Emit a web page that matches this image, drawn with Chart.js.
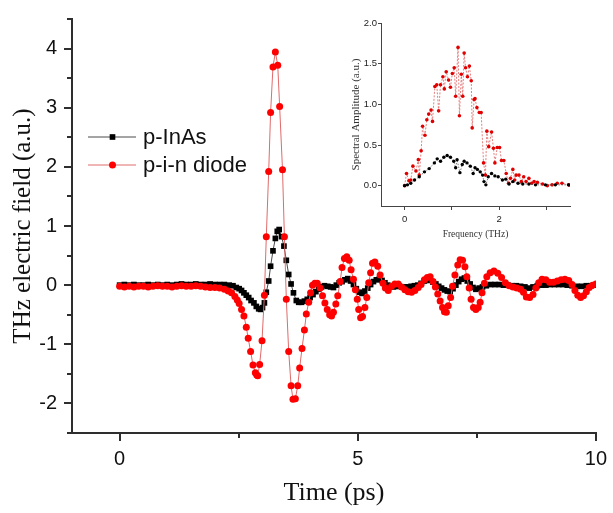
<!DOCTYPE html>
<html>
<head>
<meta charset="utf-8">
<script src="https://cdn.jsdelivr.net/npm/chart.js@4.4.1/dist/chart.umd.min.js"></script>
<style>
html, body { margin: 0; padding: 0; background: #fff; }
#wrap { position: relative; width: 613px; height: 513px; }
#mainChart { position: absolute; left: 0; top: 0; }
#insetChart { position: absolute; left: 340px; top: 0; }
</style>
</head>
<body>
<div id="wrap">
  <canvas id="mainChart" width="613" height="513"></canvas>
  <canvas id="insetChart" width="240" height="245"></canvas>
</div>
<script>
// series names
var seriesNames = ['p-InAs', 'p-i-n diode'];

// tick values
var timeTicks = [0, 5, 10];
var fieldTicks = [-2, -1, 0, 1, 2, 3, 4];
var freqTicks = [0, 1, 2, 3];
var ampTicks = [0, 0.5, 1.0, 1.5, 2.0];

// main panel: THz field vs time (ps), p-InAs
var inasTime = [
  0.0,0.1,0.2,0.3,0.4,0.5,0.6,0.7,0.8,0.9,
  1.0,1.1,1.2,1.3,1.4,1.5,1.6,1.7,1.8,1.9,
  2.0,2.1,2.2,2.3,2.38,2.45,2.51,2.56,2.61,2.66,
  2.71,2.76,2.82,2.87,2.92,2.96,3.00,3.04,3.08,3.13,
  3.17,3.22,3.27,3.31,3.35,3.40,3.45,3.50,3.55,3.60,
  3.65,3.71,3.76,3.82,3.88,3.94,4.00,4.06,4.12,4.18,
  4.24,4.30,4.37,4.43,4.49,4.55,4.61,4.67,4.73,4.79,
  4.85,4.91,4.97,5.03,5.09,5.15,5.21,5.27,5.33,5.39,
  5.45,5.51,5.57,5.63,5.69,5.75,5.81,5.87,5.93,5.99,
  6.05,6.12,6.19,6.26,6.33,6.40,6.46,6.52,6.58,6.64,
  6.70,6.76,6.82,6.88,6.94,7.00,7.06,7.12,7.18,7.24,
  7.30,7.36,7.42,7.48,7.55,7.62,7.70,7.79,7.88,7.97,
  8.06,8.15,8.24,8.33,8.42,8.51,8.60,8.68,8.77,8.86,
  8.95,9.04,9.13,9.22,9.31,9.40,9.50,9.60,9.70,9.80,
  9.90,10.0
];
var inasField = [
  0.00,0.01,0.00,0.01,0.00,0.00,0.01,0.00,0.01,0.00,
  0.01,0.00,0.01,0.02,0.01,0.01,0.02,0.01,0.01,0.02,
  0.01,0.01,0.01,0.00,-0.01,-0.04,-0.06,-0.09,-0.13,-0.17,
  -0.21,-0.26,-0.30,-0.36,-0.40,-0.41,-0.38,-0.30,-0.12,0.07,
  0.32,0.58,0.79,0.91,0.94,0.82,0.66,0.42,0.18,0.02,
  -0.13,-0.26,-0.29,-0.29,-0.27,-0.24,-0.21,-0.16,-0.11,-0.07,
  -0.03,-0.01,-0.02,-0.03,-0.04,0.00,0.04,0.06,0.09,0.11,
  0.07,0.01,-0.06,-0.12,-0.14,-0.10,-0.05,0.01,0.06,0.09,
  0.10,0.08,0.04,0.00,-0.02,-0.03,-0.02,-0.02,-0.03,-0.03,
  -0.03,-0.02,-0.01,0.00,0.03,0.07,0.09,0.08,0.05,0.02,
  -0.02,-0.05,-0.08,-0.10,-0.11,-0.06,0.00,0.06,0.10,0.12,
  0.07,0.02,-0.04,-0.07,-0.05,-0.03,-0.01,0.01,0.01,0.01,
  0.00,0.00,-0.01,-0.01,-0.02,-0.03,-0.05,-0.03,-0.01,0.00,
  0.00,0.01,0.01,0.01,0.01,0.00,-0.01,-0.02,-0.02,-0.01,
  -0.01,0.00
];

// main panel: p-i-n diode
var pinTime = [
  0.0,0.1,0.2,0.3,0.4,0.5,0.6,0.7,0.8,0.9,
  1.0,1.1,1.2,1.3,1.4,1.5,1.6,1.7,1.8,1.9,
  2.0,2.1,2.2,2.28,2.35,2.42,2.47,2.51,2.56,2.61,
  2.66,2.70,2.75,2.80,2.85,2.88,2.90,2.94,2.99,3.04,
  3.08,3.13,3.17,3.22,3.27,3.32,3.36,3.42,3.46,3.50,
  3.55,3.60,3.64,3.69,3.74,3.78,3.83,3.88,3.92,3.97,
  4.01,4.05,4.10,4.15,4.21,4.26,4.31,4.36,4.41,4.45,
  4.49,4.54,4.58,4.63,4.67,4.72,4.77,4.82,4.86,4.91,
  4.95,4.99,5.02,5.06,5.10,5.15,5.19,5.23,5.27,5.31,
  5.36,5.42,5.47,5.53,5.58,5.64,5.71,5.78,5.85,5.92,
  5.99,6.06,6.13,6.20,6.27,6.33,6.40,6.46,6.52,6.58,
  6.63,6.68,6.73,6.78,6.82,6.86,6.90,6.95,6.99,7.04,
  7.10,7.15,7.20,7.25,7.29,7.34,7.38,7.43,7.48,7.53,
  7.57,7.61,7.66,7.71,7.78,7.86,7.94,8.02,8.10,8.18,
  8.26,8.34,8.42,8.48,8.54,8.61,8.68,8.74,8.80,8.87,
  8.95,9.03,9.11,9.19,9.27,9.35,9.43,9.50,9.56,9.62,
  9.68,9.74,9.80,9.86,9.93,10.0
];
var pinField = [
  -0.02,-0.03,-0.02,-0.03,-0.02,-0.02,-0.03,-0.02,-0.01,-0.02,
  -0.02,-0.03,-0.02,-0.01,-0.02,-0.02,-0.01,-0.02,-0.03,-0.04,
  -0.04,-0.05,-0.07,-0.10,-0.13,-0.19,-0.25,-0.31,-0.41,-0.52,
  -0.71,-0.90,-1.12,-1.35,-1.48,-1.52,-1.53,-1.34,-0.94,-0.17,
  0.82,1.92,2.92,3.69,3.94,3.72,3.02,1.95,0.82,-0.24,
  -1.12,-1.70,-1.93,-1.92,-1.70,-1.40,-1.07,-0.76,-0.49,-0.29,
  -0.13,0.00,0.03,0.03,-0.05,-0.18,-0.30,-0.41,-0.50,-0.52,
  -0.46,-0.32,-0.18,0.06,0.30,0.45,0.48,0.42,0.26,0.10,
  -0.08,-0.24,-0.41,-0.55,-0.53,-0.38,-0.21,0.04,0.21,0.37,
  0.39,0.32,0.17,0.03,-0.05,-0.09,-0.02,0.02,0.02,-0.03,
  -0.08,-0.11,-0.12,-0.09,-0.04,0.01,0.09,0.13,0.14,0.06,
  -0.03,-0.15,-0.27,-0.38,-0.45,-0.46,-0.35,-0.21,-0.02,0.17,
  0.34,0.43,0.42,0.31,0.14,-0.05,-0.24,-0.38,-0.41,-0.38,
  -0.29,-0.13,0.03,0.14,0.21,0.24,0.20,0.13,0.04,-0.01,
  -0.03,-0.05,-0.07,-0.12,-0.20,-0.21,-0.16,-0.05,0.04,0.10,
  0.09,0.05,0.05,0.07,0.09,0.10,0.08,0.01,-0.09,-0.17,
  -0.21,-0.18,-0.11,-0.04,0.00,0.02
];

// inset: spectral amplitude vs frequency (THz)
var inasFreq = [
  0.00,0.06,0.13,0.21,0.31,0.42,0.52,0.63,0.69,0.76,
  0.83,0.90,0.97,1.04,1.08,1.11,1.17,1.22,1.26,1.32,
  1.39,1.45,1.49,1.54,1.60,1.65,1.68,1.72,1.77,1.84,
  1.91,1.98,2.07,2.14,2.21,2.29,2.40,2.50,2.63,2.77,
  2.98,3.19,3.47
];
var inasAmp = [
  0.00,0.01,0.03,0.07,0.11,0.17,0.21,0.28,0.33,0.30,
  0.35,0.37,0.35,0.30,0.22,0.32,0.16,0.26,0.30,0.28,
  0.24,0.15,0.22,0.20,0.17,0.13,0.05,0.01,0.11,0.15,
  0.12,0.11,0.07,0.08,0.02,0.05,0.03,0.02,0.02,0.01,
  0.01,0.01,0.01
];
var pinFreq = [
  0.00,0.04,0.09,0.13,0.175,0.24,0.29,0.31,0.35,0.38,
  0.43,0.47,0.51,0.56,0.59,0.64,0.68,0.72,0.76,0.81,
  0.84,0.88,0.93,0.97,1.01,1.05,1.08,1.13,1.16,1.20,
  1.23,1.26,1.29,1.33,1.37,1.41,1.43,1.47,1.49,1.53,
  1.58,1.62,1.67,1.71,1.74,1.78,1.84,1.88,1.91,1.96,
  2.01,2.05,2.10,2.15,2.20,2.24,2.29,2.33,2.36,2.42,
  2.47,2.52,2.57,2.63,2.69,2.74,2.81,2.92,3.02,3.12,
  3.23,3.33,3.47
];
var pinAmp = [
  0.00,0.15,0.06,0.07,0.24,0.18,0.32,0.13,0.43,0.73,
  0.62,0.81,0.88,0.93,0.79,1.22,1.24,0.92,1.24,1.34,
  1.19,1.40,1.30,1.21,1.38,1.45,1.10,1.70,0.86,1.37,
  1.10,1.63,1.45,1.34,1.47,1.29,0.71,1.06,1.07,0.96,
  0.90,0.90,0.28,0.13,0.67,0.48,0.66,0.46,0.28,0.47,
  0.47,0.31,0.31,0.15,0.03,0.09,0.20,0.07,0.13,0.13,
  0.05,0.11,0.05,0.09,0.03,0.05,0.04,0.02,0.00,0.01,
  0.03,0.03,0.01
];

function toPoints(xs, ys) {
  return xs.map(function (x, i) { return { x: x, y: ys[i] }; });
}
function fixedTicks(values) {
  return function (s) { s.ticks = values.map(function (v) { return { value: v }; }); };
}

var AXIS = '#2e2e2e';
var SANS = '"Liberation Sans", Arial, sans-serif';
var SERIF = '"Liberation Serif", "Times New Roman", serif';

// shorter ticks halfway between the labelled ones
var minorTicks = {
  id: 'minorTicks',
  afterDraw: function (chart) {
    var ctx = chart.ctx;
    ctx.save();
    ctx.strokeStyle = AXIS;
    ctx.lineWidth = 2;
    ['x', 'y'].forEach(function (id) {
      var s = chart.scales[id];
      var vals = s.ticks.map(function (t) { return t.value; });
      var step = vals[1] - vals[0];
      for (var v = vals[0] - step / 2; v <= s.max + 1e-9; v += step) {
        if (v < s.min - 1e-9) continue;
        var p = Math.round(s.getPixelForValue(v));
        ctx.beginPath();
        if (id === 'x') { ctx.moveTo(p, s.top); ctx.lineTo(p, s.top + 5); }
        else { ctx.moveTo(s.right, p); ctx.lineTo(s.right - 5, p); }
        ctx.stroke();
      }
    });
    ctx.restore();
  }
};

// legend drawn inside the plot, left of the pulse
var insideLegend = {
  id: 'insideLegend',
  afterDraw: function (chart) {
    var ctx = chart.ctx;
    ctx.save();
    chart.data.datasets.forEach(function (ds, i) {
      var y = 137 + i * 28;
      ctx.strokeStyle = ds.borderColor;
      ctx.lineWidth = 1;
      ctx.beginPath();
      ctx.moveTo(88, y);
      ctx.lineTo(136, y);
      ctx.stroke();
      ctx.fillStyle = ds.pointBackgroundColor;
      Chart.helpers.drawPoint(ctx, { pointStyle: ds.pointStyle, radius: ds.pointRadius, borderWidth: 0, rotation: 0 }, 112.5, y);
      ctx.fillStyle = '#111';
      ctx.font = '22px ' + SANS;
      ctx.textBaseline = 'middle';
      ctx.fillText(ds.label, 143, y + 1);
    });
    ctx.restore();
  }
};

new Chart(document.getElementById('mainChart').getContext('2d'), {
  type: 'scatter',
  data: {
    datasets: [
      {
        label: seriesNames[0],
        data: toPoints(inasTime, inasField),
        showLine: true,
        borderColor: '#4a4a4a',
        borderWidth: 1,
        pointStyle: 'rect',
        pointRadius: 4,
        pointBackgroundColor: '#000',
        pointBorderWidth: 0,
        order: 1
      },
      {
        label: seriesNames[1],
        data: toPoints(pinTime, pinField),
        showLine: true,
        borderColor: '#e06a6a',
        borderWidth: 1,
        pointStyle: 'circle',
        pointRadius: 3.5,
        pointBackgroundColor: '#ff0000',
        pointBorderWidth: 0,
        order: 0
      }
    ]
  },
  options: {
    responsive: false,
    animation: false,
    layout: { padding: { top: 10, right: 14, left: 0, bottom: 0 } },
    plugins: {
      legend: { display: false },
      tooltip: { enabled: false }
    },
    scales: {
      x: {
        type: 'linear',
        min: -1,
        max: 10,
        afterBuildTicks: fixedTicks(timeTicks),
        afterFit: function (s) { s.height = 80; },
        ticks: { color: '#111', padding: 6, font: { family: SANS, size: 20 } },
        grid: { drawOnChartArea: false, tickLength: 8, color: AXIS, lineWidth: 2 },
        border: { color: AXIS, width: 2 },
        title: { display: true, text: 'Time (ps)', color: '#111', padding: { top: 0, bottom: 4 }, font: { family: SERIF, size: 26 } }
      },
      y: {
        min: -2.5,
        max: 4.5,
        afterBuildTicks: fixedTicks(fieldTicks),
        afterFit: function (s) { s.width = 72; },
        ticks: { color: '#111', padding: 7, font: { family: SANS, size: 20 } },
        grid: { drawOnChartArea: false, tickLength: 8, color: AXIS, lineWidth: 2 },
        border: { color: AXIS, width: 2 },
        title: { display: true, text: 'THz electric field (a.u.)', color: '#111', padding: { top: 8, bottom: 0 }, font: { family: SERIF, size: 25 } }
      }
    }
  },
  plugins: [minorTicks, insideLegend]
});

new Chart(document.getElementById('insetChart').getContext('2d'), {
  type: 'scatter',
  data: {
    datasets: [
      {
        label: seriesNames[0],
        data: toPoints(inasFreq, inasAmp),
        showLine: true,
        borderColor: '#555',
        borderWidth: 0.8,
        borderDash: [1.5, 1.5],
        pointRadius: 1.7,
        pointBackgroundColor: '#000',
        pointBorderWidth: 0,
        order: 0
      },
      {
        label: seriesNames[1],
        data: toPoints(pinFreq, pinAmp),
        showLine: true,
        borderColor: '#e07070',
        borderWidth: 0.9,
        borderDash: [2, 1.5],
        pointRadius: 1.8,
        pointBackgroundColor: '#e00000',
        pointBorderWidth: 0,
        order: 1
      }
    ]
  },
  options: {
    responsive: false,
    animation: false,
    layout: { padding: { top: 23, right: 10, left: 0, bottom: 0 } },
    plugins: {
      legend: { display: false },
      tooltip: { enabled: false }
    },
    scales: {
      x: {
        type: 'linear',
        min: -0.5,
        max: 3.5,
        afterBuildTicks: fixedTicks(freqTicks),
        afterFit: function (s) { s.height = 39; },
        ticks: {
          color: '#222', padding: 4,
          font: { family: SANS, size: 9.5 },
          callback: function (v) { return v % 2 === 0 ? v : ''; }
        },
        grid: { drawOnChartArea: false, tickLength: 4, color: '#444', lineWidth: 1 },
        border: { color: '#444', width: 1 },
        title: { display: true, text: 'Frequency (THz)', color: '#333', padding: { top: 0, bottom: 5 }, font: { family: SERIF, size: 9.5 } }
      },
      y: {
        min: -0.25,
        max: 2.0,
        afterBuildTicks: fixedTicks(ampTicks),
        afterFit: function (s) { s.width = 41; },
        ticks: {
          color: '#222', padding: 1,
          font: { family: SANS, size: 9.5 },
          callback: function (v) { return v.toFixed(1); }
        },
        grid: { drawOnChartArea: false, tickLength: 3, color: '#444', lineWidth: 1 },
        border: { color: '#444', width: 1 },
        title: { display: true, text: 'Spectral Amplitude (a.u.)', color: '#333', padding: { top: 10, bottom: 0 }, font: { family: SERIF, size: 11 } }
      }
    }
  }
});
</script>
</body>
</html>
